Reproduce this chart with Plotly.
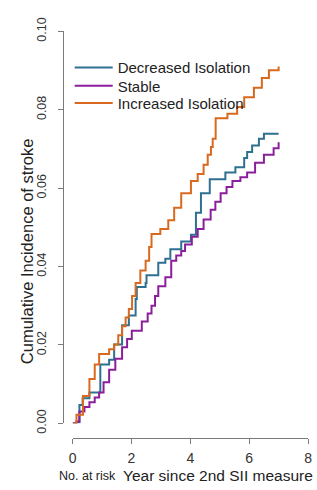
import plotly.graph_objects as go

# Data (time in years, cumulative incidence)
dec_t = [0, 0.13, 0.23, 0.34, 0.57, 0.94, 1.24, 1.41, 1.68, 1.91, 2.14, 2.18, 2.48, 2.51, 2.91, 3.15, 3.32, 3.69, 4.02, 4.19, 4.36, 4.66, 5.19, 5.53, 5.83, 5.93, 6.10, 6.33, 6.50, 7.0]
dec_v = [0, 0.0002, 0.0047, 0.0064, 0.0079, 0.0150, 0.0162, 0.0201, 0.0250, 0.0275, 0.0317, 0.0348, 0.0358, 0.0378, 0.0410, 0.0420, 0.0444, 0.0464, 0.0481, 0.0537, 0.0587, 0.0623, 0.0640, 0.0653, 0.0677, 0.0692, 0.0709, 0.0726, 0.0739, 0.0739]

sta_t = [0, 0.13, 0.23, 0.40, 0.57, 0.75, 0.90, 1.05, 1.24, 1.45, 1.68, 1.85, 2.01, 2.35, 2.55, 2.68, 2.80, 2.91, 3.15, 3.35, 3.52, 3.69, 3.82, 4.05, 4.25, 4.45, 4.69, 4.85, 5.03, 5.23, 5.43, 5.70, 5.93, 6.20, 6.50, 6.83, 7.0]
sta_v = [0, 0.0005, 0.0030, 0.0042, 0.0054, 0.0066, 0.0079, 0.0105, 0.0137, 0.0165, 0.0194, 0.0215, 0.0236, 0.0260, 0.0280, 0.0300, 0.0325, 0.0350, 0.0373, 0.0415, 0.0428, 0.0440, 0.0456, 0.0476, 0.0496, 0.0520, 0.0545, 0.0565, 0.0587, 0.0603, 0.0618, 0.0628, 0.0640, 0.0665, 0.0685, 0.0702, 0.0717]

inc_t = [0, 0.13, 0.35, 0.57, 0.75, 0.90, 1.24, 1.41, 1.55, 1.68, 1.80, 1.91, 2.02, 2.14, 2.30, 2.48, 2.60, 2.68, 2.98, 3.25, 3.45, 3.69, 4.02, 4.25, 4.45, 4.59, 4.70, 4.76, 4.86, 5.26, 5.59, 5.83, 6.16, 6.43, 6.67, 7.0]
inc_v = [0, 0.0022, 0.0070, 0.0113, 0.0150, 0.0177, 0.0189, 0.0201, 0.0225, 0.0248, 0.0270, 0.0292, 0.0325, 0.0358, 0.0390, 0.0415, 0.0450, 0.0483, 0.0496, 0.0518, 0.0550, 0.0587, 0.0618, 0.0636, 0.0660, 0.0685, 0.0705, 0.0726, 0.0778, 0.0790, 0.0807, 0.0832, 0.0856, 0.0881, 0.0901, 0.0910]

series_names = ["Decreased Isolation", "Stable", "Increased Isolation"]
colors = ["#2d7090", "#8b1f9b", "#d8691e"]

x_ticks = [0, 2, 4, 6, 8]
y_ticks = [0.00, 0.02, 0.04, 0.06, 0.08, 0.10]
y_tick_text = ["0.00", "0.02", "0.04", "0.06", "0.08", "0.10"]

W, H = 317, 490
ml, mr, mt, mb = 50, 2, 4, 4
pw = W - ml - mr
ph = H - mt - mb


def px_x(p):
    return (p - ml) / pw


def px_y(p):
    return (H - mb - p) / ph


legend_ids = ["legend", "legend2", "legend3"]
legend_rows = [58, 77, 95]

fig = go.Figure()
for t, v, name, c, lid in zip([dec_t, sta_t, inc_t], [dec_v, sta_v, inc_v],
                              series_names, colors, legend_ids):
    fig.add_trace(go.Scatter(x=t, y=v, mode="lines", name=name, legend=lid,
                             line=dict(color=c, width=2, shape="hv")))

axis_col = "#7a7a7a"
leg_common = dict(xanchor="left", yanchor="middle", bgcolor="rgba(0,0,0,0)",
                  font=dict(size=15, color="#222"), itemwidth=38)
fig.update_layout(
    width=W, height=H,
    margin=dict(l=ml, r=mr, t=mt, b=mb),
    plot_bgcolor="white", paper_bgcolor="white",
    font=dict(family="Liberation Sans, Arial, sans-serif", color="#222"),
    xaxis=dict(range=[0, 8], domain=[px_x(73), px_x(312)],
               anchor="free", position=px_y(444),
               tickvals=x_ticks, ticks="outside", ticklen=5, tickcolor=axis_col,
               showline=True, linecolor=axis_col, linewidth=1,
               showgrid=False, zeroline=False, ticklabeloverflow="allow",
               tickfont=dict(size=14, color="#333"), ticklabelstandoff=2),
    yaxis=dict(range=[0, 0.10], domain=[px_y(429), px_y(20)],
               anchor="free", position=px_x(63),
               tickvals=y_ticks, ticktext=y_tick_text, tickangle=-90,
               ticks="outside", ticklen=5, tickcolor=axis_col,
               showline=True, linecolor=axis_col, linewidth=1,
               showgrid=False, zeroline=False, ticklabeloverflow="allow",
               tickfont=dict(size=12.5, color="#333"), ticklabelstandoff=7),
    legend=dict(x=px_x(70), y=px_y(legend_rows[0]), **leg_common),
    legend2=dict(x=px_x(70), y=px_y(legend_rows[1]), **leg_common),
    legend3=dict(x=px_x(70), y=px_y(legend_rows[2]), **leg_common),
    showlegend=True,
)

fig.add_annotation(text="Cumulative Incidence of stroke", textangle=-90,
                   xref="paper", yref="paper", xanchor="center", yanchor="middle",
                   x=px_x(26), y=px_y(249),
                   showarrow=False, font=dict(size=16.5, color="#222"))
fig.add_annotation(text="Year since 2nd SII measure", xref="paper", yref="paper",
                   xanchor="center", yanchor="middle",
                   x=px_x(221), y=px_y(483),
                   showarrow=False, font=dict(size=15.5, color="#222"))
fig.add_annotation(text="No. at risk", xref="paper", yref="paper",
                   xanchor="center", yanchor="middle",
                   x=px_x(88), y=px_y(484),
                   showarrow=False, font=dict(size=12.5, color="#222"))

fig.write_html("out.html", config={"displayModeBar": False},
               post_script="document.body.style.margin='0';document.body.style.overflow='hidden';")
